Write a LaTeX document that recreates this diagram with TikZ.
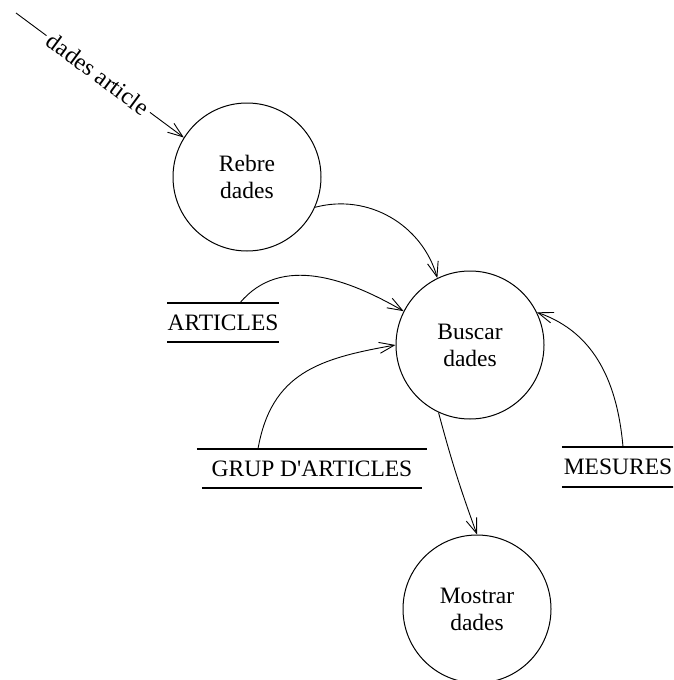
\documentclass[tikz,border=0pt]{standalone}
\usepackage{fontspec}
\setmainfont{Liberation Serif}
\usetikzlibrary{arrows.meta}
\begin{document}
\begin{tikzpicture}[x=1pt,y=1pt,
  txt/.style={font=\fontsize{23.5}{27}\selectfont},
  proc/.style={txt, circle, draw, line width=1pt, minimum size=148pt, inner sep=0pt, align=center},
  store/.style={txt, inner sep=0pt},
  storeline/.style={line width=2.4pt},
  flow/.style={line width=0.9pt, -{Straight Barb[length=15pt,width=11pt]}},
  flowlabel/.style={font=\fontsize{24}{27}\selectfont, sloped, fill=white, inner xsep=4pt, inner ysep=1pt},
]
\clip (0,0) rectangle (673,-680);

% processes
\node[proc] (rebre)   at (247,-177) {Rebre\\dades};
\node[proc] (buscar)  at (470,-345) {Buscar\\dades};
\node[proc] (mostrar) at (477,-609) {Mostrar\\dades};

% data stores
\node[store, minimum width=110pt, minimum height=39pt] (articles) at (223,-322.5) {ARTICLES};
\node[store, minimum width=230pt, minimum height=39pt] (grup) at (312,-468.5) {GRUP D\textquotesingle ARTICLES};
\node[store, minimum width=112pt, minimum height=40pt] (mesures) at (618,-467) {MESURES};

\draw[storeline] (articles.north west) -- (articles.north east);
\draw[storeline] (articles.south west) -- (articles.south east);
\draw[storeline] (grup.north west) -- (grup.north east);
\draw[storeline] ([xshift=5pt]grup.south west) -- ([xshift=-5pt]grup.south east);
\draw[storeline] (mesures.north west) -- (mesures.north east);
\draw[storeline] (mesures.south west) -- (mesures.south east);

% flows
\coordinate (src) at (16,-13);
\draw[flow] (src) -- node[flowlabel, pos=0.49] {dades article} (rebre.148);
\draw[flow] (rebre.-24) to[out=15, in=106] (buscar.116);
\draw[flow] ([xshift=17pt]articles.north) to[out=50, in=150] (buscar.153);
\draw[flow] ([xshift=-54pt]grup.north) to[out=80, in=190, looseness=1.15] (buscar.180);
\draw[flow] ([xshift=5pt]mesures.north) to[out=95, in=-19] (buscar.26);
\draw[flow] (buscar.245) to[out=-75, in=110] (mostrar.north);
\end{tikzpicture}
\end{document}
